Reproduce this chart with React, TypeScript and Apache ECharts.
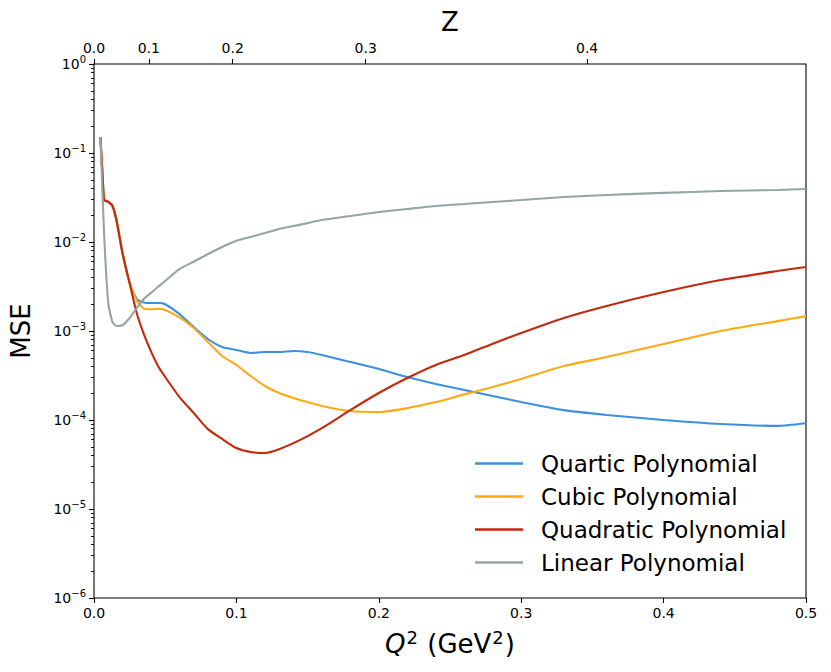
import React, { useEffect, useRef } from "react";
import * as echarts from "echarts";

// Q^2 sample positions (GeV^2) shared by all series
const q2Grid = [
  0.0045, 0.006, 0.007, 0.008, 0.01, 0.013, 0.016, 0.02, 0.025, 0.03, 0.035, 0.04, 0.045, 0.05,
  0.06, 0.07, 0.08, 0.09, 0.1, 0.11, 0.12, 0.13, 0.14, 0.15, 0.16, 0.18, 0.2, 0.22, 0.24, 0.26,
  0.28, 0.3, 0.33, 0.36, 0.4, 0.44, 0.48, 0.5,
];

const quarticMSE = [
  0.151, 0.0566, 0.0296, 0.0291, 0.0282, 0.0254, 0.0169, 0.0075, 0.00346, 0.0023, 0.00209, 0.00206,
  0.00206, 0.002, 0.00155, 0.00111, 0.000813, 0.000661, 0.000612, 0.000566, 0.00058, 0.00058,
  0.000596, 0.00058, 0.000537, 0.000449, 0.000374, 0.000304, 0.000254, 0.000217, 0.000186,
  0.000159, 0.000129, 0.000114, 0.0001, 0.00009, 0.000086, 0.000092,
];

const cubicMSE = [
  0.151, 0.0566, 0.0298, 0.0293, 0.0284, 0.0256, 0.0171, 0.0076, 0.00348, 0.0022, 0.00178, 0.00175,
  0.00178, 0.00172, 0.00142, 0.00108, 0.000752, 0.000524, 0.000415, 0.000312, 0.000241, 0.000201,
  0.000177, 0.000159, 0.000144, 0.000126, 0.000123, 0.000136, 0.000159, 0.000194, 0.000235,
  0.000289, 0.000404, 0.000511, 0.000714, 0.001, 0.00129, 0.00147,
];

const quadraticMSE = [
  0.151, 0.0566, 0.0296, 0.0291, 0.0282, 0.0254, 0.0169, 0.0075, 0.00346, 0.00159, 0.00092, 0.00059,
  0.000404, 0.000304, 0.000181, 0.00012, 0.000079, 0.0000612, 0.0000484, 0.0000437, 0.0000426,
  0.000047, 0.000055, 0.000066, 0.000081, 0.000129, 0.000201, 0.000296, 0.000415, 0.000537,
  0.00072, 0.00095, 0.0014, 0.00191, 0.00274, 0.00374, 0.00472, 0.00524,
];

const linearMSE = [
  0.151, 0.0337, 0.0136, 0.0063, 0.00206, 0.00126, 0.00114, 0.00116, 0.0014, 0.00181, 0.00229,
  0.00268, 0.00314, 0.00365, 0.00497, 0.006, 0.00733, 0.00879, 0.0103, 0.0114, 0.0126, 0.014,
  0.0151, 0.0163, 0.0177, 0.0196, 0.0217, 0.0235, 0.0254, 0.0267, 0.0281, 0.0296, 0.032, 0.0338,
  0.0356, 0.0374, 0.0384, 0.0394,
];

const seriesNames = ["Quartic Polynomial", "Cubic Polynomial", "Quadratic Polynomial", "Linear Polynomial"];
const seriesValues = [quarticMSE, cubicMSE, quadraticMSE, linearMSE];
const seriesColors = ["#3d8fdf", "#ffaa14", "#c4290c", "#95a5a3"];

const zTickLabels = [0.0, 0.1, 0.2, 0.3, 0.4];
const yDecades = [-6, -5, -4, -3, -2, -1, 0];
const minorMultipliers = [2, 3, 4, 5, 6, 7, 8, 9];

// z-expansion mapping with t_cut = 4 m_pi^2
const T_CUT = 4 * 0.13957 * 0.13957;
const zToQ2 = (z: number) => T_CUT * (Math.pow((1 + z) / (1 - z), 2) - 1);
const q2ToZ = (q: number) => {
  const s = Math.sqrt(T_CUT + q);
  const s0 = Math.sqrt(T_CUT);
  return (s - s0) / (s + s0);
};

const FONT = "DejaVu Sans";

export default function App() {
  const ref = useRef<HTMLDivElement>(null);

  useEffect(() => {
    if (!ref.current) return;
    const chart = echarts.init(ref.current, undefined, { renderer: "svg" });

    const majorY = yDecades.map((e) => Math.pow(10, e));
    const minorY: number[] = [];
    yDecades.slice(0, -1).forEach((e) => {
      minorMultipliers.forEach((m) => minorY.push(m * Math.pow(10, e)));
    });
    const zTickQ2 = zTickLabels.map(zToQ2);

    const tickLine = { color: "#000", width: 1.1 };

    const option: any = {
      animation: false,
      backgroundColor: "#fff",
      grid: {
        left: 94,
        top: 64,
        width: 712,
        height: 534,
        show: true,
        borderColor: "#000",
        borderWidth: 1.1,
        backgroundColor: "transparent",
        containLabel: false,
      },
      legend: {
        orient: "vertical",
        left: 470,
        top: 447,
        icon: "rect",
        itemWidth: 48,
        itemHeight: 2.5,
        itemGap: 10,
        textStyle: { fontSize: 23, color: "#000", fontFamily: FONT, padding: [0, 0, 0, 13] },
        data: seriesNames,
      },
      xAxis: [
        {
          type: "value",
          position: "bottom",
          min: 0,
          max: 0.5,
          interval: 0.1,
          axisLine: { show: false },
          axisTick: { show: true, length: 5, lineStyle: tickLine },
          splitLine: { show: false },
          axisLabel: {
            margin: 8,
            fontSize: 14,
            color: "#000",
            fontFamily: FONT,
            formatter: (v: number) => v.toFixed(1),
          },
          name: "{i|Q}{s|2}{n| (GeV}{s|2}{n|)}",
          nameLocation: "middle",
          nameGap: 30,
          nameTextStyle: {
            fontFamily: FONT,
            color: "#000",
            rich: {
              i: { fontSize: 26, fontStyle: "italic", fontFamily: FONT, color: "#000" },
              n: { fontSize: 26, fontFamily: FONT, color: "#000" },
              s: { fontSize: 18, fontFamily: FONT, color: "#000", padding: [0, 1, 13, 1] },
            },
          },
        },
        {
          type: "value",
          position: "top",
          min: 0,
          max: 0.5,
          axisLine: { show: false },
          axisTick: { show: true, length: 5, lineStyle: tickLine, customValues: zTickQ2 },
          splitLine: { show: false },
          axisLabel: {
            margin: 9,
            fontSize: 14,
            color: "#000",
            fontFamily: FONT,
            customValues: zTickQ2,
            formatter: (v: number) => q2ToZ(v).toFixed(1),
          },
          name: "Z",
          nameLocation: "middle",
          nameGap: 29,
          nameTextStyle: { fontSize: 26, color: "#000", fontFamily: FONT },
        },
      ],
      yAxis: [
        {
          type: "log",
          logBase: 10,
          min: 1e-6,
          max: 1,
          position: "left",
          axisLine: { show: false },
          axisTick: { show: true, length: 5, lineStyle: tickLine, customValues: majorY },
          splitLine: { show: false },
          axisLabel: {
            margin: 8,
            color: "#000",
            customValues: majorY,
            formatter: (v: number) => {
              const e = Math.round(Math.log10(v));
              return `{b|10}{s|${e < 0 ? "\u2212" : ""}${Math.abs(e)}}`;
            },
            rich: {
              b: { fontSize: 14, fontFamily: FONT, color: "#000" },
              s: { fontSize: 10, fontFamily: FONT, color: "#000", padding: [0, 0, 9, 0] },
            },
          },
          name: "MSE",
          nameLocation: "middle",
          nameGap: 60,
          nameTextStyle: { fontSize: 26, color: "#000", fontFamily: FONT },
        },
        {
          type: "log",
          logBase: 10,
          min: 1e-6,
          max: 1,
          position: "left",
          axisLine: { show: false },
          axisTick: { show: true, length: 3, lineStyle: { color: "#000", width: 0.9 }, customValues: minorY },
          axisLabel: { show: false },
          splitLine: { show: false },
        },
      ],
      series: seriesNames.map((name, i) => ({
        name,
        type: "line",
        xAxisIndex: 0,
        yAxisIndex: 0,
        showSymbol: false,
        symbol: "none",
        smooth: 0.2,
        color: seriesColors[i],
        lineStyle: { color: seriesColors[i], width: 2.1 },
        data: q2Grid.map((q, j) => [q, seriesValues[i][j]]),
        z: 2 + i,
      })),
    };

    chart.setOption(option);
    return () => chart.dispose();
  }, []);

  return (
    <div
      ref={ref}
      style={{ position: "absolute", left: 0, top: 0, width: 831, height: 672, background: "#fff" }}
    />
  );
}
